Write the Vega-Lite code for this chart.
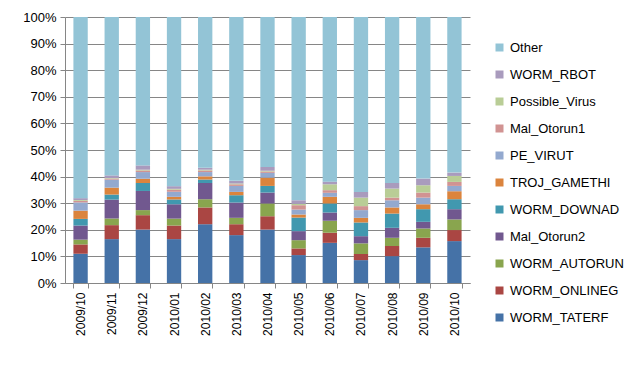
{
  "$schema": "https://vega.github.io/schema/vega-lite/v6.json",
  "autosize": {"type": "none"},
  "padding": {"left": 65, "top": 17, "right": 168, "bottom": 83},
  "width": 405,
  "height": 266,
  "background": "white",
  "config": {
    "view": {"stroke": null},
    "font": "Liberation Sans"
  },
  "data": {"values": [
    {"month": "2009/10", "WORM_TATERF": 11, "WORM_ONLINEG": 3.5, "WORM_AUTORUN": 1.8, "Mal_Otorun2": 5.3, "WORM_DOWNAD": 2.5, "TROJ_GAMETHI": 3.1, "PE_VIRUT": 3.1, "Mal_Otorun1": 0.6, "Possible_Virus": 0.3, "WORM_RBOT": 0.7, "Other": 68.1},
    {"month": "2009/11", "WORM_TATERF": 16.5, "WORM_ONLINEG": 5.25, "WORM_AUTORUN": 2.5, "Mal_Otorun2": 7.1, "WORM_DOWNAD": 1.9, "TROJ_GAMETHI": 2.6, "PE_VIRUT": 3.0, "Mal_Otorun1": 0.4, "Possible_Virus": 0.2, "WORM_RBOT": 1.0, "Other": 59.55},
    {"month": "2009/12", "WORM_TATERF": 20.1, "WORM_ONLINEG": 5.4, "WORM_AUTORUN": 1.9, "Mal_Otorun2": 7.2, "WORM_DOWNAD": 3.0, "TROJ_GAMETHI": 1.6, "PE_VIRUT": 2.5, "Mal_Otorun1": 0.6, "Possible_Virus": 0.3, "WORM_RBOT": 1.6, "Other": 55.8},
    {"month": "2010/01", "WORM_TATERF": 16.5, "WORM_ONLINEG": 5.1, "WORM_AUTORUN": 2.6, "Mal_Otorun2": 5.4, "WORM_DOWNAD": 1.8, "TROJ_GAMETHI": 1.0, "PE_VIRUT": 1.9, "Mal_Otorun1": 0.8, "Possible_Virus": 0.3, "WORM_RBOT": 1.0, "Other": 63.6},
    {"month": "2010/02", "WORM_TATERF": 22.1, "WORM_ONLINEG": 6.3, "WORM_AUTORUN": 3.1, "Mal_Otorun2": 6.1, "WORM_DOWNAD": 1.3, "TROJ_GAMETHI": 1.2, "PE_VIRUT": 1.6, "Mal_Otorun1": 0.6, "Possible_Virus": 0.3, "WORM_RBOT": 0.7, "Other": 56.7},
    {"month": "2010/03", "WORM_TATERF": 18, "WORM_ONLINEG": 4.1, "WORM_AUTORUN": 2.4, "Mal_Otorun2": 5.75, "WORM_DOWNAD": 2.75, "TROJ_GAMETHI": 1.25, "PE_VIRUT": 2.25, "Mal_Otorun1": 0.6, "Possible_Virus": 0.3, "WORM_RBOT": 1.0, "Other": 61.6},
    {"month": "2010/04", "WORM_TATERF": 20.1, "WORM_ONLINEG": 5.0, "WORM_AUTORUN": 4.8, "Mal_Otorun2": 4.1, "WORM_DOWNAD": 2.5, "TROJ_GAMETHI": 3.1, "PE_VIRUT": 1.8, "Mal_Otorun1": 0.5, "Possible_Virus": 0.3, "WORM_RBOT": 1.4, "Other": 56.4},
    {"month": "2010/05", "WORM_TATERF": 10.5, "WORM_ONLINEG": 2.5, "WORM_AUTORUN": 3.1, "Mal_Otorun2": 3.4, "WORM_DOWNAD": 5.1, "TROJ_GAMETHI": 1.15, "PE_VIRUT": 1.85, "Mal_Otorun1": 1.65, "Possible_Virus": 0.5, "WORM_RBOT": 1.35, "Other": 68.9},
    {"month": "2010/06", "WORM_TATERF": 15.1, "WORM_ONLINEG": 3.8, "WORM_AUTORUN": 4.5, "Mal_Otorun2": 3.1, "WORM_DOWNAD": 3.4, "TROJ_GAMETHI": 2.5, "PE_VIRUT": 1.5, "Mal_Otorun1": 1.0, "Possible_Virus": 2.2, "WORM_RBOT": 1.0, "Other": 61.9},
    {"month": "2010/07", "WORM_TATERF": 8.6, "WORM_ONLINEG": 2.3, "WORM_AUTORUN": 4.0, "Mal_Otorun2": 2.7, "WORM_DOWNAD": 5.15, "TROJ_GAMETHI": 1.75, "PE_VIRUT": 2.9, "Mal_Otorun1": 1.5, "Possible_Virus": 3.2, "WORM_RBOT": 2.15, "Other": 65.75},
    {"month": "2010/08", "WORM_TATERF": 10.1, "WORM_ONLINEG": 3.8, "WORM_AUTORUN": 3.1, "Mal_Otorun2": 3.75, "WORM_DOWNAD": 5.35, "TROJ_GAMETHI": 2.3, "PE_VIRUT": 2.7, "Mal_Otorun1": 1.0, "Possible_Virus": 3.4, "WORM_RBOT": 2.1, "Other": 62.4},
    {"month": "2010/09", "WORM_TATERF": 13.4, "WORM_ONLINEG": 3.6, "WORM_AUTORUN": 3.5, "Mal_Otorun2": 2.5, "WORM_DOWNAD": 4.75, "TROJ_GAMETHI": 1.85, "PE_VIRUT": 2.5, "Mal_Otorun1": 1.9, "Possible_Virus": 2.75, "WORM_RBOT": 2.5, "Other": 60.75},
    {"month": "2010/10", "WORM_TATERF": 15.75, "WORM_ONLINEG": 4.15, "WORM_AUTORUN": 4.0, "Mal_Otorun2": 3.85, "WORM_DOWNAD": 3.75, "TROJ_GAMETHI": 3.0, "PE_VIRUT": 2.0, "Mal_Otorun1": 1.5, "Possible_Virus": 2.25, "WORM_RBOT": 1.25, "Other": 58.5}
  ]},
  "transform": [
    {"fold": ["WORM_TATERF", "WORM_ONLINEG", "WORM_AUTORUN", "Mal_Otorun2", "WORM_DOWNAD", "TROJ_GAMETHI", "PE_VIRUT", "Mal_Otorun1", "Possible_Virus", "WORM_RBOT", "Other"], "as": ["series", "value"]},
    {"calculate": "indexof(['WORM_TATERF', 'WORM_ONLINEG', 'WORM_AUTORUN', 'Mal_Otorun2', 'WORM_DOWNAD', 'TROJ_GAMETHI', 'PE_VIRUT', 'Mal_Otorun1', 'Possible_Virus', 'WORM_RBOT', 'Other'], datum.series)", "as": "stackOrder"}
  ],
  "mark": {"type": "bar", "stroke": null},
  "encoding": {
    "x": {
      "field": "month", "type": "ordinal",
      "scale": {"paddingInner": 0.54, "paddingOuter": 0.27},
      "axis": {
        "title": null, "labelAngle": -90, "labelFontSize": 12, "labelColor": "#000000",
        "domainColor": "#868686", "tickColor": "#868686", "tickSize": 5, "tickBand": "extent",
        "labelPadding": 4, "labelBaseline": "middle", "labelAlign": "right"
      }
    },
    "y": {
      "field": "value", "type": "quantitative", "stack": "normalize",
      "scale": {"domain": [0, 1]},
      "axis": {
        "title": null, "format": ".0%", "values": [0, 0.1, 0.2, 0.3, 0.4, 0.5, 0.6, 0.7, 0.8, 0.9, 1],
        "labelFontSize": 13, "labelColor": "#000000", "labelPadding": 4,
        "domainColor": "#868686", "tickColor": "#868686", "tickSize": 5,
        "gridColor": "#868686", "gridWidth": 1
      }
    },
    "order": {"field": "stackOrder", "type": "quantitative", "sort": "ascending"},
    "color": {
      "field": "series", "type": "nominal",
      "sort": ["Other", "WORM_RBOT", "Possible_Virus", "Mal_Otorun1", "PE_VIRUT", "TROJ_GAMETHI", "WORM_DOWNAD", "Mal_Otorun2", "WORM_AUTORUN", "WORM_ONLINEG", "WORM_TATERF"],
      "scale": {
        "domain": ["Other", "WORM_RBOT", "Possible_Virus", "Mal_Otorun1", "PE_VIRUT", "TROJ_GAMETHI", "WORM_DOWNAD", "Mal_Otorun2", "WORM_AUTORUN", "WORM_ONLINEG", "WORM_TATERF"],
        "range": ["#93C4D6", "#A99BBD", "#B9CD96", "#D19392", "#93A9CF", "#DB843D", "#4198AF", "#71588F", "#89A54E", "#AA4643", "#4572A7"]
      },
      "legend": {
        "title": null, "orient": "none", "legendX": 428, "legendY": 24,
        "symbolType": "square", "symbolSize": 64, "symbolStrokeWidth": 0,
        "labelFontSize": 13, "labelColor": "#000000", "rowPadding": 13, "labelOffset": 4
      }
    }
  }
}
